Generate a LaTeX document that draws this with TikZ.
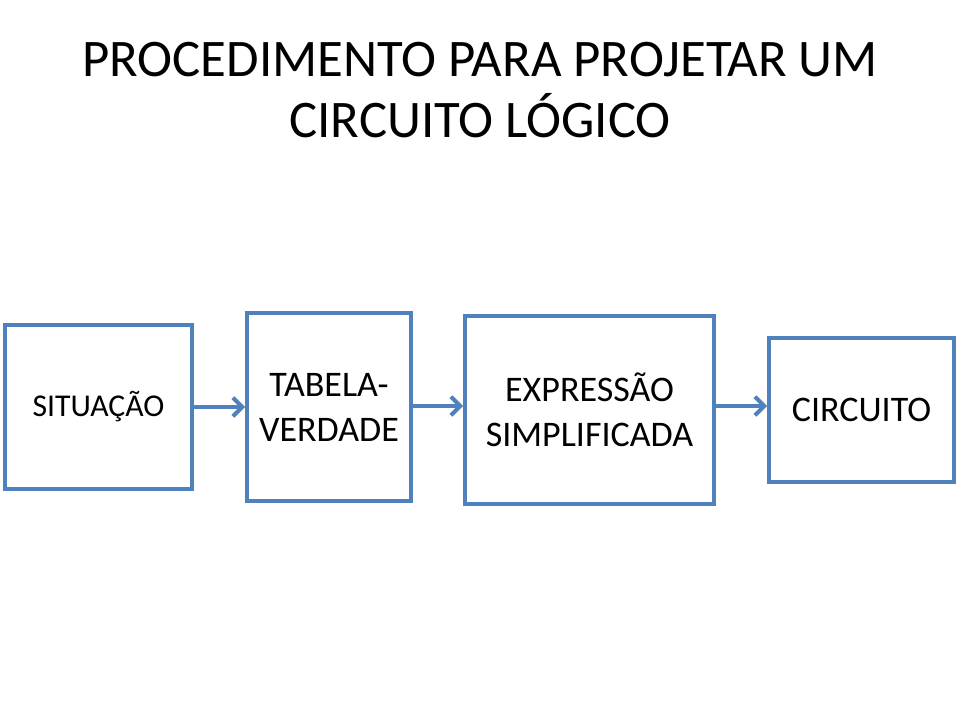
\documentclass[tikz,border=0pt]{standalone}
\usepackage{fontspec}
\setmainfont{Carlito}
\usetikzlibrary{arrows.meta,positioning,calc}
\definecolor{boxblue}{HTML}{4F81BD}

\begin{document}
\begin{tikzpicture}[x=0.75pt,y=-0.75pt,>={Straight Barb[length=7pt,width=14pt]},
 stage/.style={draw=boxblue,line width=3pt,align=center,inner sep=0pt,
  font=\fontsize{27}{33.75}\selectfont},
 flow/.style={->,draw=boxblue,line width=3pt}]
 \useasboundingbox[fill=white] (0,0) rectangle (960,720);
 \node[align=center,font=\fontsize{39.6}{45.75}\selectfont] (title) at (480,90)
 {PROCEDIMENTO PARA PROJETAR UM\\CIRCUITO LÓGICO};
 \node[stage,minimum width=187*0.75pt,minimum height=164*0.75pt,
  font=\fontsize{23.8}{28}\selectfont] (sit) at (98.5,407) {SITUAÇÃO};
 \node[stage,minimum width=164*0.75pt,minimum height=188*0.75pt] (tab) at (329,407)
 {TABELA-\\VERDADE};
 \node[stage,minimum width=249*0.75pt,minimum height=188*0.75pt] (expr) at (589.5,410)
 {EXPRESSÃO\\SIMPLIFICADA};
 \node[stage,minimum width=185*0.75pt,minimum height=144*0.75pt] (circ) at (861.5,410)
 {CIRCUITO};
 \draw[flow] (sit.east) -- (sit.east -| tab.west);
 \draw[flow] ($(tab.east)+(0,-1)$) -- ($(tab.east -| expr.west)+(0,-1)$);
 \draw[flow] ($(expr.east)+(0,-4)$) -- ($(expr.east -| circ.west)+(0,-4)$);
\end{tikzpicture}
\end{document}
